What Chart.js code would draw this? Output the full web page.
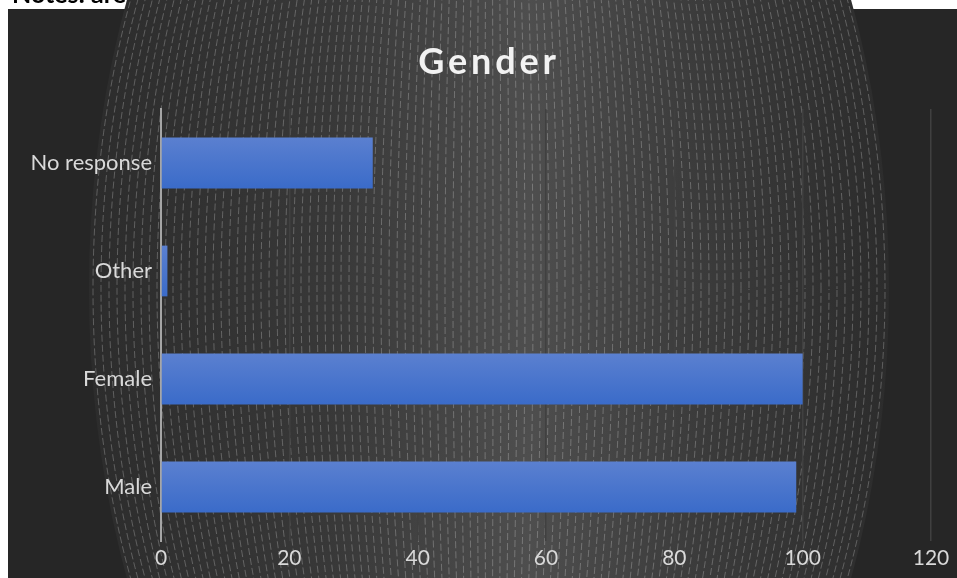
<!DOCTYPE html>
<html>
<head>
<meta charset="utf-8">
<title>Gender</title>
<script src="https://cdn.jsdelivr.net/npm/chart.js@4"></script>
<style>
  html, body { margin: 0; padding: 0; background: #ffffff; overflow: hidden; }
  #wrap { position: relative; width: 957px; height: 578px; }
  #note {
    position: absolute; left: 12px; top: -22px; z-index: 2;
    font: bold 25px Lato, sans-serif; color: #000000; white-space: nowrap;
  }
  canvas { display: block; }
</style>
</head>
<body>
<div id="wrap">
  <div id="note">Notes: are</div>
  <canvas id="chart" width="957" height="578"></canvas>
</div>
<script>
// Survey answers by gender
const categories = ['No response', 'Other', 'Female', 'Male'];
const responses = [33, 1, 100, 99];
const xTicks = [0, 20, 40, 60, 80, 100, 120];
const chartTitle = 'Gender';

// Page backdrop: dark panel with a globe-like glow and dashed meridians
const backdrop = {
  id: 'backdrop',
  beforeDraw(chart) {
    const c = chart.ctx;
    const W = chart.width, H = chart.height;
    c.save();
    c.fillStyle = '#ffffff';
    c.fillRect(0, 0, W, H);
    c.fillStyle = '#262626';
    c.fillRect(8, 9, W - 8, H - 9);

    const cx = 489, cy = 289, rx = 400, ry = 680;
    const g = c.createLinearGradient(cx - rx, 0, cx + rx, 0);
    g.addColorStop(0, '#2c2c2c');
    g.addColorStop(0.3, '#383838');
    g.addColorStop(0.55, '#4e4e4e');
    g.addColorStop(0.75, '#3c3c3c');
    g.addColorStop(1, '#2c2c2c');
    c.fillStyle = g;
    c.beginPath();
    c.ellipse(cx, cy, rx, ry, 0, 0, Math.PI * 2);
    c.fill();

    c.strokeStyle = 'rgba(255,255,255,0.24)';
    c.lineWidth = 1;
    c.setLineDash([7, 3]);
    let i = 0;
    for (let r = 4; r <= rx; r += 8, i++) {
      c.lineDashOffset = (i * 3) % 10;
      c.beginPath();
      c.ellipse(cx, cy, r, ry, 0, 0, Math.PI * 2);
      c.stroke();
    }
    c.restore();
  }
};

// Spaced bold heading
const heading = {
  id: 'heading',
  afterDraw(chart) {
    const c = chart.ctx;
    c.save();
    c.font = 'bold 36px Lato, sans-serif';
    c.fillStyle = '#f2f2f2';
    c.textAlign = 'center';
    c.textBaseline = 'alphabetic';
    if ('letterSpacing' in c) c.letterSpacing = '3.8px';
    c.fillText(chartTitle, 489, 74);
    c.restore();
  }
};

function barFill(ctx) {
  const chart = ctx.chart;
  const ys = chart.scales && chart.scales.y;
  if (!ys || ctx.type !== 'data' || !chart.chartArea) return '#4a75cc';
  const mid = ys.getPixelForValue(ctx.dataIndex);
  const g = chart.ctx.createLinearGradient(0, mid - 26, 0, mid + 26);
  g.addColorStop(0, '#5b80d0');
  g.addColorStop(1, '#3a6bc9');
  return g;
}

new Chart(document.getElementById('chart'), {
  type: 'bar',
  data: {
    labels: categories,
    datasets: [{
      data: responses,
      backgroundColor: barFill,
      borderWidth: 0,
      barPercentage: 0.47,
      categoryPercentage: 1
    }]
  },
  options: {
    indexAxis: 'y',
    responsive: false,
    animation: false,
    layout: { padding: { top: 109, right: 26, bottom: 0, left: 0 } },
    plugins: {
      legend: { display: false },
      tooltip: { enabled: false },
      title: { display: false }
    },
    scales: {
      x: {
        min: 0,
        max: 120,
        afterBuildTicks(s) { s.ticks = xTicks.map(v => ({ value: v })); },
        ticks: { color: '#d9d9d9', font: { family: 'Lato', size: 21 }, padding: 5, maxRotation: 0 },
        grid: { color: '#404040', lineWidth: 1.5, drawTicks: false },
        border: { display: false },
        afterFit(s) { s.height = 37; }
      },
      y: {
        ticks: { color: '#d9d9d9', font: { family: 'Lato', size: 22 }, padding: 9 },
        grid: { display: false, drawTicks: false },
        border: { color: '#a6a6a6', width: 2 },
        afterFit(s) { s.width = 161; }
      }
    }
  },
  plugins: [backdrop, heading]
});
</script>
</body>
</html>
